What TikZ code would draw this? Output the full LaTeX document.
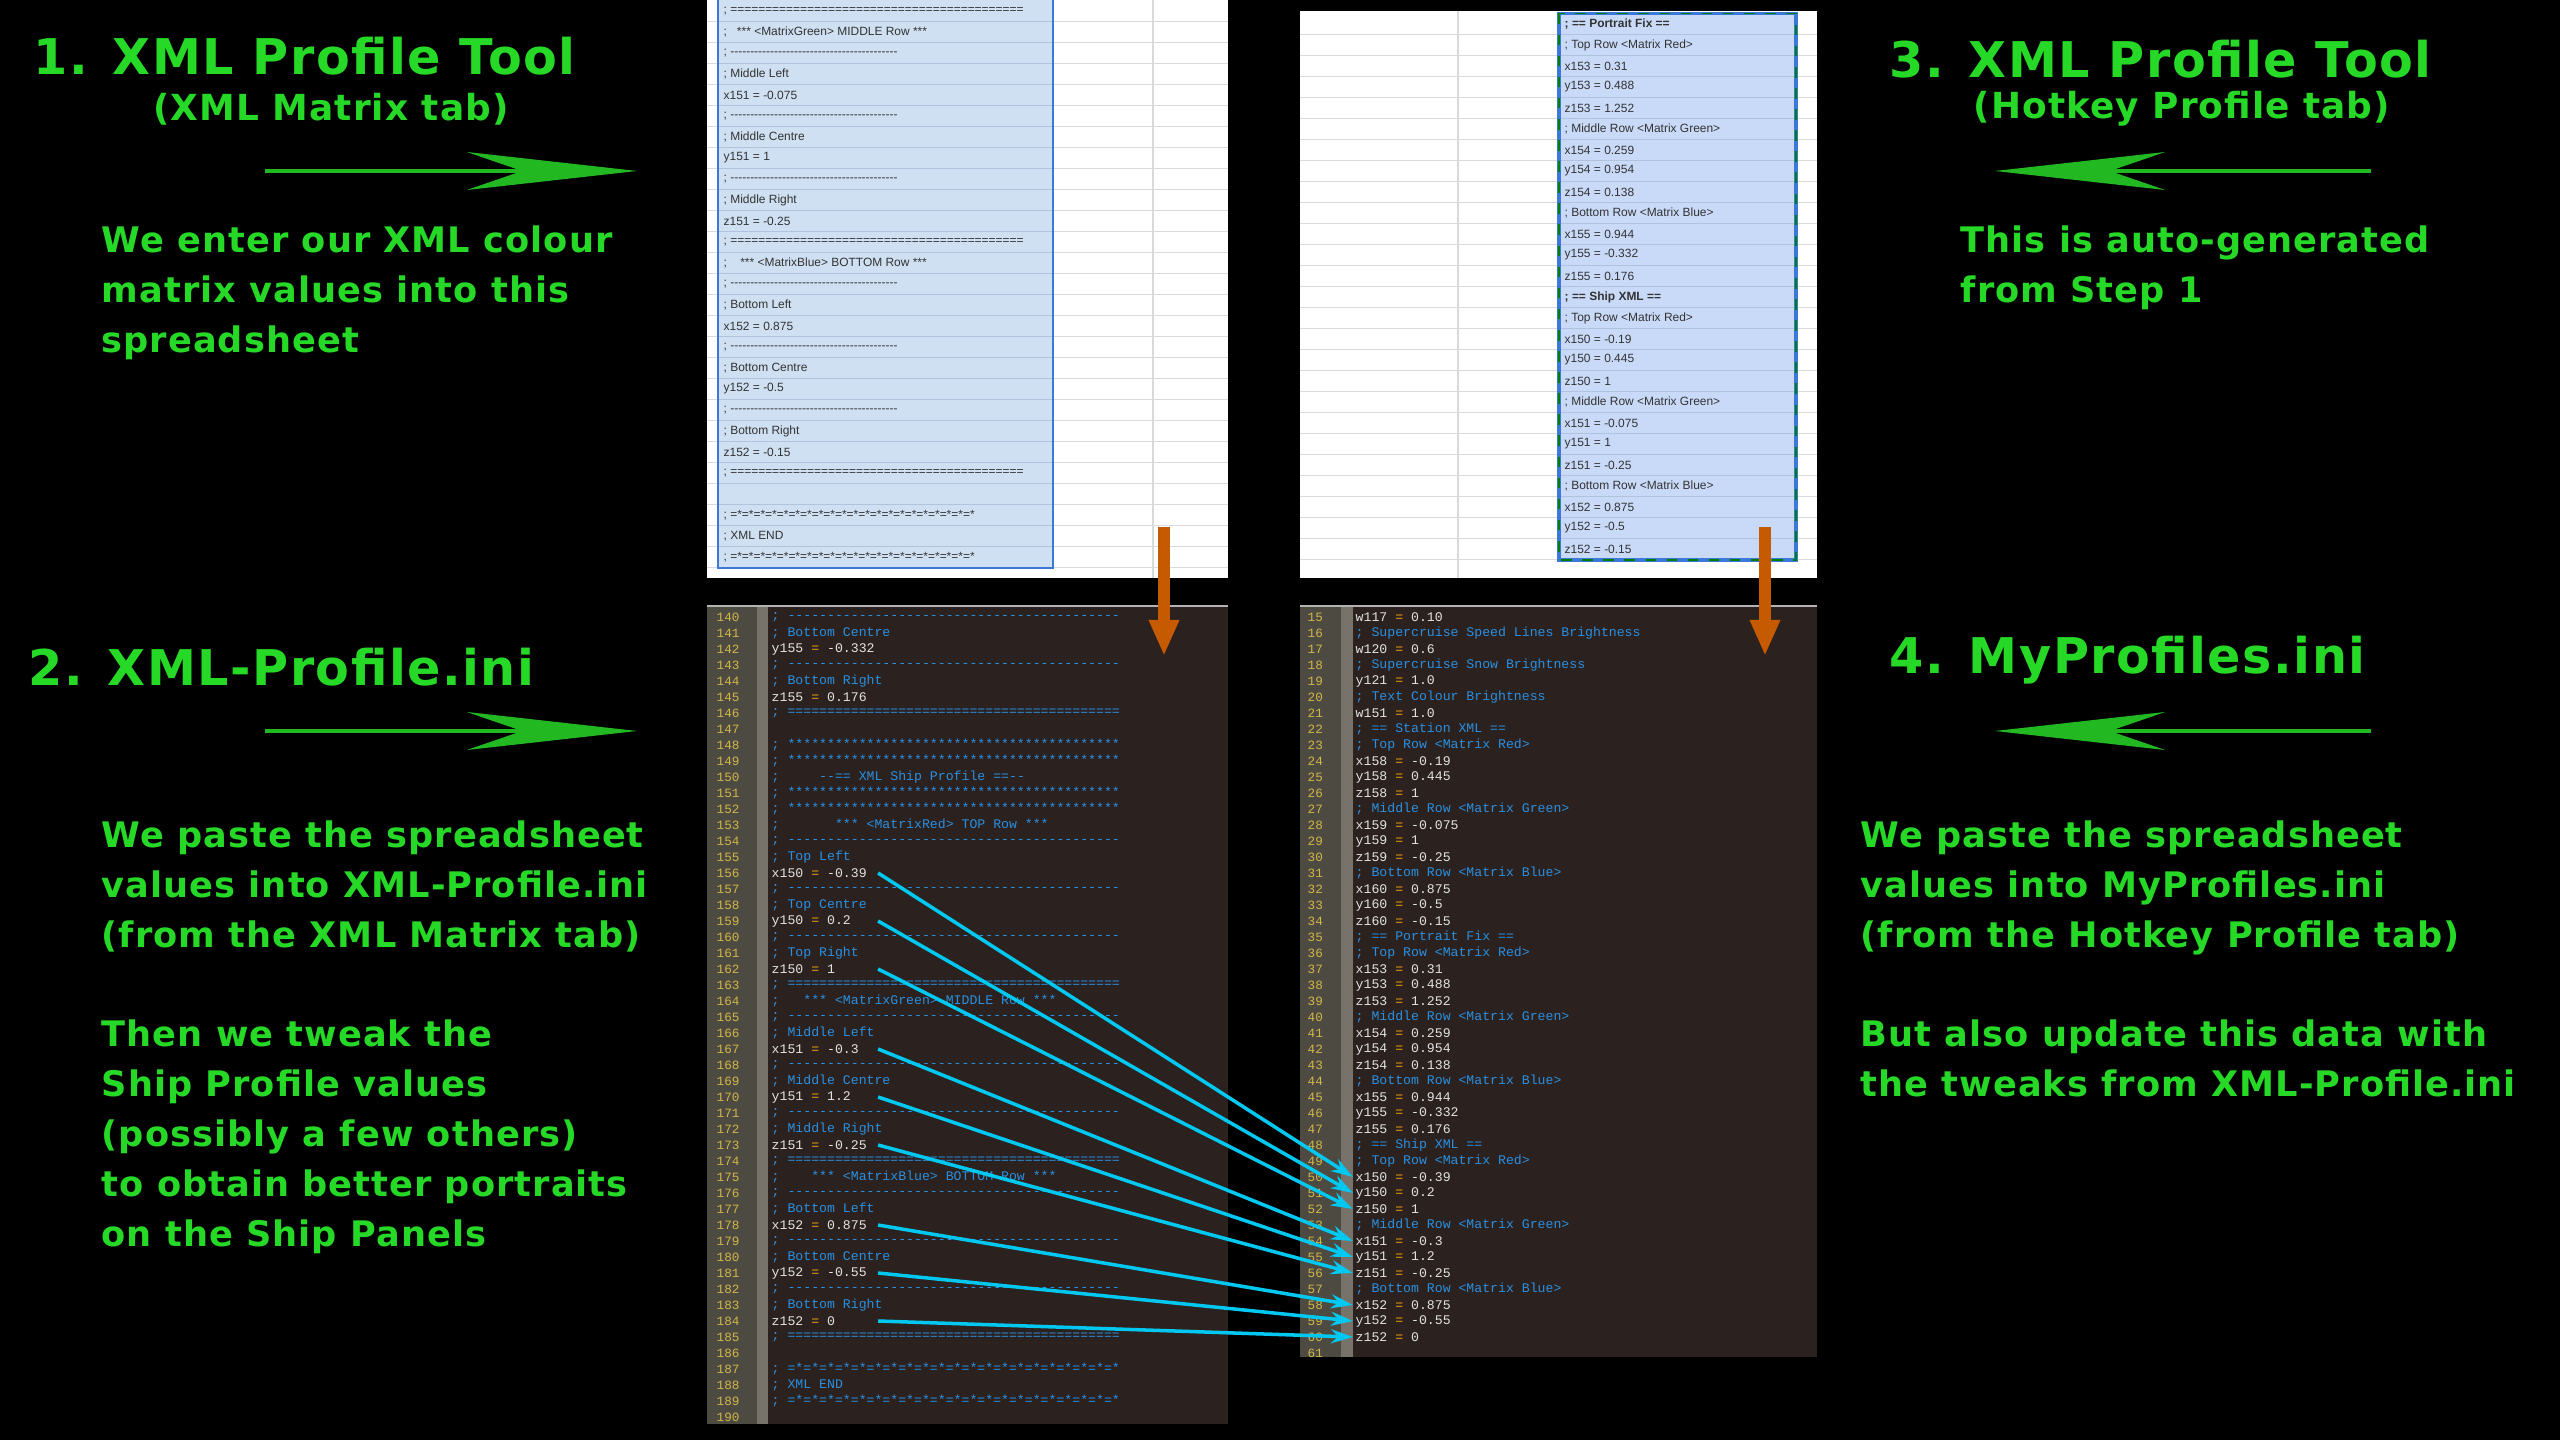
\documentclass[tikz,border=0pt]{standalone}
\usepackage{fontspec}
\setmonofont{Liberation Mono}
\newfontfamily\sheetfont{Liberation Sans}
\newfontfamily\headfont{DejaVu Sans}[LetterSpace=3]
\usetikzlibrary{arrows.meta, positioning}
\definecolor{hgreen}{HTML}{26D926}
\definecolor{agreen}{HTML}{22B822}
\definecolor{codebg}{HTML}{2B221F}
\definecolor{gutter}{HTML}{4D4A42}
\definecolor{hatch}{HTML}{77736A}
\definecolor{lnum}{HTML}{D2B64A}
\definecolor{codecm}{HTML}{2A8FE0}
\definecolor{codeval}{HTML}{E2E2E2}
\definecolor{codeeq}{HTML}{F0A000}
\definecolor{cyanarr}{HTML}{00C8F0}
\definecolor{orangearr}{HTML}{C55A00}
\definecolor{gridln}{HTML}{DADADA}
\definecolor{selfillL}{HTML}{CFE0F2}
\definecolor{selfillR}{HTML}{C9DAF8}
\definecolor{selrow}{HTML}{AFC3DD}
\definecolor{selblue}{HTML}{3C78D8}
\newcommand\kv[2]{\textcolor{codeval}{#1}\ \textcolor{codeeq}{=}\ \textcolor{codeval}{#2}}
\newcommand\cmt[1]{\textcolor{codecm}{#1}}
\def\dashL{------------------------------------------}
\def\eqL{==========================================}
\def\starL{******************************************}
\def\eqstarL{=*=*=*=*=*=*=*=*=*=*=*=*=*=*=*=*=*=*=*=*=*}
\def\sd{-\kern0pt}
\def\sdsix{\sd\sd\sd\sd\sd\sd}
\def\sdashes{\sdsix\sdsix\sdsix\sdsix\sdsix\sdsix\sdsix}
\def\seqs{==========================================}
\def\seqstar{=*=*=*=*=*=*=*=*=*=*=*=*=*=*=*=*=*=*=*=*=*}
\tikzset{
  headtxt/.style={anchor=north west, inner sep=0, text=hgreen, align=left,
    font=\headfont\bfseries\fontsize{14}{17}\selectfont},
  bodytxt/.style={anchor=north west, inner sep=0, text=hgreen, align=left,
    font=\headfont\bfseries\fontsize{10}{14.2}\selectfont},
  subtxt/.style={inner sep=0, text=hgreen, font=\headfont\bfseries\fontsize{10.2}{12}\selectfont},
  flowarr/.style={agreen, line width=1.4pt, -{Stealth[length=1.7cm, width=0.38cm]}},
  codetxt/.style={anchor=west, inner sep=0, font=\ttfamily\fontsize{3.75}{4}\selectfont},
  lnumtxt/.style={anchor=west, inner sep=0, text=lnum, font=\ttfamily\fontsize{3.6}{4}\selectfont},
  sheettxt/.style={anchor=west, inner sep=0, text=black!80, font=\sheetfont\fontsize{3.4}{4}\selectfont},
  linkarr/.style={cyanarr, line width=1pt, -{Stealth[length=0.22cm, width=0.14cm]}},
  downarr/.style={orangearr, line width=0.12cm, -{Triangle[length=0.36cm, width=0.28cm]}}
}
\begin{document}
\begin{tikzpicture}[x=0.01cm, y=-0.01cm]
  \fill[black] (0,0) rectangle (2560,1440);
  \useasboundingbox (0,0) rectangle (2560,1440);

  % Left sheet (XML Matrix tab)
  \fill[white] (707,0) rectangle (1228,578);
  \fill[selfillL] (718,0) rectangle (1053,568);
  \foreach \y in {21.5,42.5,...,578} {
    \draw[gridln] (707,\y) -- (718,\y);
    \draw[gridln] (1053,\y) -- (1228,\y);
  }
  \foreach \y in {21.5,42.5,...,568} \draw[selrow] (718,\y) -- (1053,\y);
  \draw[gridln] (1153,0) -- (1153,578);
  \draw[selblue, line width=0.6pt] (718,-2) rectangle (1053,568);
  \foreach \t [count=\i from 0] in {
      {; \seqs}, {;\ \ \ *** <MatrixGreen> MIDDLE Row ***}, {; \sdashes},
      {; Middle Left}, {x151 = -0.075}, {; \sdashes}, {; Middle Centre}, {y151 = 1},
      {; \sdashes}, {; Middle Right}, {z151 = -0.25}, {; \seqs},
      {;\ \ \ \ *** <MatrixBlue> BOTTOM Row ***}, {; \sdashes}, {; Bottom Left},
      {x152 = 0.875}, {; \sdashes}, {; Bottom Centre}, {y152 = -0.5}, {; \sdashes},
      {; Bottom Right}, {z152 = -0.15}, {; \seqs}, {}, {; \seqstar}, {; XML END},
      {; \seqstar}}
    \node[sheettxt] (sl\i) at (723,{11+21*\i}) {\t};

  % Right sheet (Hotkey Profile tab)
  \fill[white] (1300,11) rectangle (1817,578);
  \fill[selfillR] (1559,13.5) rectangle (1796,560);
  \foreach \y in {34.5,55.5,...,578} {
    \draw[gridln] (1300,\y) -- (1559,\y);
    \draw[gridln] (1796,\y) -- (1817,\y);
  }
  \foreach \y in {34.5,55.5,...,560} \draw[selrow] (1559,\y) -- (1796,\y);
  \draw[gridln] (1458,11) -- (1458,578);
  \draw[selblue, line width=1pt] (1559,13.5) rectangle (1796,560);
  \draw[green!50!black, dashed, line width=0.4pt] (1559,13.5) rectangle (1796,560);
  \foreach \t [count=\i from 0] in {
      {\bfseries ; == Portrait Fix ==}, {; Top Row <Matrix Red>}, {x153 = 0.31},
      {y153 = 0.488}, {z153 = 1.252}, {; Middle Row <Matrix Green>}, {x154 = 0.259},
      {y154 = 0.954}, {z154 = 0.138}, {; Bottom Row <Matrix Blue>}, {x155 = 0.944},
      {y155 = -0.332}, {z155 = 0.176}, {\bfseries ; == Ship XML ==},
      {; Top Row <Matrix Red>}, {x150 = -0.19}, {y150 = 0.445}, {z150 = 1},
      {; Middle Row <Matrix Green>}, {x151 = -0.075}, {y151 = 1}, {z151 = -0.25},
      {; Bottom Row <Matrix Blue>}, {x152 = 0.875}, {y152 = -0.5}, {z152 = -0.15}}
    \node[sheettxt] (sr\i) at (1564,{24+21*\i}) {\t};

  % Left code panel (XML-Profile.ini)
  \fill[codebg] (707,606) rectangle (1228,1424);
  \fill[gutter] (707,606) rectangle (757,1424);
  \fill[hatch] (757,606) rectangle (768,1424);
  \draw[gray!60, line width=0.8pt] (707,606) -- (1228,606);
  \foreach \n in {140,...,190}
    \node[lnumtxt] at (716,{617+(\n-140)*16}) {\n};
  \foreach \n/\t in {
      140/{\cmt{; \dashL}}, 141/{\cmt{; Bottom Centre}}, 142/{\kv{y155}{-0.332}},
      143/{\cmt{; \dashL}}, 144/{\cmt{; Bottom Right}}, 145/{\kv{z155}{0.176}},
      146/{\cmt{; \eqL}}, 148/{\cmt{; \starL}}, 149/{\cmt{; \starL}},
      150/{\cmt{;\ \ \ \ \ --== XML Ship Profile ==--}}, 151/{\cmt{; \starL}},
      152/{\cmt{; \starL}}, 153/{\cmt{;\ \ \ \ \ \ \ *** <MatrixRed> TOP Row ***}},
      154/{\cmt{; \dashL}}, 155/{\cmt{; Top Left}}, 156/{\kv{x150}{-0.39}},
      157/{\cmt{; \dashL}}, 158/{\cmt{; Top Centre}}, 159/{\kv{y150}{0.2}},
      160/{\cmt{; \dashL}}, 161/{\cmt{; Top Right}}, 162/{\kv{z150}{1}},
      163/{\cmt{; \eqL}}, 164/{\cmt{;\ \ \ *** <MatrixGreen> MIDDLE Row ***}},
      165/{\cmt{; \dashL}}, 166/{\cmt{; Middle Left}}, 167/{\kv{x151}{-0.3}},
      168/{\cmt{; \dashL}}, 169/{\cmt{; Middle Centre}}, 170/{\kv{y151}{1.2}},
      171/{\cmt{; \dashL}}, 172/{\cmt{; Middle Right}}, 173/{\kv{z151}{-0.25}},
      174/{\cmt{; \eqL}}, 175/{\cmt{;\ \ \ \ *** <MatrixBlue> BOTTOM Row ***}},
      176/{\cmt{; \dashL}}, 177/{\cmt{; Bottom Left}}, 178/{\kv{x152}{0.875}},
      179/{\cmt{; \dashL}}, 180/{\cmt{; Bottom Centre}}, 181/{\kv{y152}{-0.55}},
      182/{\cmt{; \dashL}}, 183/{\cmt{; Bottom Right}}, 184/{\kv{z152}{0}},
      185/{\cmt{; \eqL}}, 187/{\cmt{; \eqstarL}}, 188/{\cmt{; XML END}},
      189/{\cmt{; \eqstarL}}}
    \node[codetxt] (L\n) at (771,{617+(\n-140)*16}) {\t};

  % Right code panel (MyProfiles.ini)
  \fill[codebg] (1300,606) rectangle (1817,1357);
  \fill[gutter] (1300,606) rectangle (1341,1357);
  \fill[hatch] (1341,606) rectangle (1353,1357);
  \draw[gray!60, line width=0.8pt] (1300,606) -- (1817,606);
  \foreach \n in {15,...,61}
    \node[lnumtxt] at (1307,{617+(\n-15)*16}) {\n};
  \foreach \n/\t in {
      15/{\kv{w117}{0.10}}, 16/{\cmt{; Supercruise Speed Lines Brightness}},
      17/{\kv{w120}{0.6}}, 18/{\cmt{; Supercruise Snow Brightness}},
      19/{\kv{y121}{1.0}}, 20/{\cmt{; Text Colour Brightness}}, 21/{\kv{w151}{1.0}},
      22/{\cmt{; == Station XML ==}}, 23/{\cmt{; Top Row <Matrix Red>}},
      24/{\kv{x158}{-0.19}}, 25/{\kv{y158}{0.445}}, 26/{\kv{z158}{1}},
      27/{\cmt{; Middle Row <Matrix Green>}}, 28/{\kv{x159}{-0.075}},
      29/{\kv{y159}{1}}, 30/{\kv{z159}{-0.25}}, 31/{\cmt{; Bottom Row <Matrix Blue>}},
      32/{\kv{x160}{0.875}}, 33/{\kv{y160}{-0.5}}, 34/{\kv{z160}{-0.15}},
      35/{\cmt{; == Portrait Fix ==}}, 36/{\cmt{; Top Row <Matrix Red>}},
      37/{\kv{x153}{0.31}}, 38/{\kv{y153}{0.488}}, 39/{\kv{z153}{1.252}},
      40/{\cmt{; Middle Row <Matrix Green>}}, 41/{\kv{x154}{0.259}},
      42/{\kv{y154}{0.954}}, 43/{\kv{z154}{0.138}}, 44/{\cmt{; Bottom Row <Matrix Blue>}},
      45/{\kv{x155}{0.944}}, 46/{\kv{y155}{-0.332}}, 47/{\kv{z155}{0.176}},
      48/{\cmt{; == Ship XML ==}}, 49/{\cmt{; Top Row <Matrix Red>}},
      50/{\kv{x150}{-0.39}}, 51/{\kv{y150}{0.2}}, 52/{\kv{z150}{1}},
      53/{\cmt{; Middle Row <Matrix Green>}}, 54/{\kv{x151}{-0.3}},
      55/{\kv{y151}{1.2}}, 56/{\kv{z151}{-0.25}}, 57/{\cmt{; Bottom Row <Matrix Blue>}},
      58/{\kv{x152}{0.875}}, 59/{\kv{y152}{-0.55}}, 60/{\kv{z152}{0}}}
    \node[codetxt] (R\n) at (1355,{617+(\n-15)*16}) {\t};

  % Tweaked values copied across
  \foreach \a/\b in {156/50, 159/51, 162/52, 167/54, 170/55, 173/56, 178/58, 181/59, 184/60}
    \draw[linkarr] ([xshift=1.07cm]L\a.west) -- ([xshift=-0.02cm]R\b.west);

  % Sheet to file
  \coordinate (sheetL) at (1164,527);
  \coordinate (fileL) at (1164,656);
  \coordinate (sheetR) at (1765,527);
  \coordinate (fileR) at (1765,656);
  \draw[downarr] (sheetL) -- (fileL);
  \draw[downarr] (sheetR) -- (fileR);

  % Step texts
  \node[headtxt] (step1) at (33,36) {1. XML Profile Tool};
  \node[subtxt] (tab1) at (331,109) {(XML Matrix tab)};
  \node[bodytxt] (note1) at (101,225) {We enter our XML colour\\matrix values into this\\spreadsheet};
  \node[headtxt] (step2) at (28,647) {2. XML-Profile.ini};
  \node[bodytxt] (note2) at (101,820) {We paste the spreadsheet\\values into XML-Profile.ini\\(from the XML Matrix tab)};
  \node[bodytxt] (note3) at (101,1019) {Then we tweak the\\Ship Profile values\\(possibly a few others)\\to obtain better portraits\\on the Ship Panels};
  \node[headtxt] (step3) at (1889,39) {3. XML Profile Tool};
  \node[subtxt] (tab3) at (2182,109) {(Hotkey Profile tab)};
  \node[bodytxt] (note4) at (1960,225) {This is auto-generated\\from Step 1};
  \node[headtxt] (step4) at (1889,635) {4. MyProfiles.ini};
  \node[bodytxt] (note5) at (1860,820) {We paste the spreadsheet\\values into MyProfiles.ini\\(from the Hotkey Profile tab)};
  \node[bodytxt] (note6) at (1860,1019) {But also update this data with\\the tweaks from XML-Profile.ini};

  % Direction arrows
  \coordinate (a1s) at (265,171); \coordinate (a1e) at (637,171);
  \coordinate (a2s) at (265,731); \coordinate (a2e) at (637,731);
  \coordinate (a3s) at (2371,171); \coordinate (a3e) at (1995,171);
  \coordinate (a4s) at (2371,731); \coordinate (a4e) at (1995,731);
  \draw[flowarr] (a1s) -- (a1e);
  \draw[flowarr] (a2s) -- (a2e);
  \draw[flowarr] (a3s) -- (a3e);
  \draw[flowarr] (a4s) -- (a4e);
\end{tikzpicture}
\end{document}
